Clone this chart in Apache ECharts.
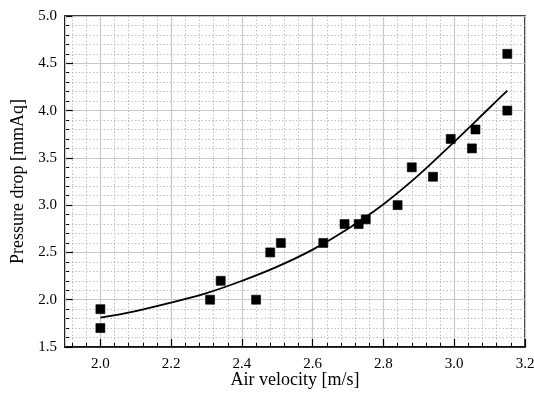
<!DOCTYPE html>
<html>
<head>
<meta charset="utf-8">
<script src="https://cdn.jsdelivr.net/npm/echarts@6/dist/echarts.min.js"></script>
<style>
html,body{margin:0;padding:0;background:#fff;}
#chart{width:534px;height:396px;}
</style>
</head>
<body>
<div id="chart"></div>
<script>
// Measured points
var pointX = [2.00, 2.00, 2.31, 2.34, 2.44, 2.48, 2.51, 2.63, 2.69, 2.73, 2.75, 2.84, 2.88, 2.94, 2.99, 3.05, 3.06, 3.15, 3.15];
var pointY = [1.9, 1.7, 2.0, 2.2, 2.0, 2.5, 2.6, 2.6, 2.8, 2.8, 2.85, 3.0, 3.4, 3.3, 3.7, 3.6, 3.8, 4.0, 4.6];
// Fitted curve
var curveX = [2.0, 2.1, 2.2, 2.3, 2.4, 2.5, 2.6, 2.7, 2.8, 2.9, 3.0, 3.1, 3.15];
var curveY = [1.81, 1.88, 1.97, 2.07, 2.20, 2.35, 2.53, 2.75, 3.01, 3.32, 3.67, 4.03, 4.21];
// Axis settings
var xName = 'Air velocity [m/s]';
var yName = 'Pressure drop [mmAq]';

var FONT = '"Liberation Serif", "Times New Roman", serif';
var chart = echarts.init(document.getElementById('chart'), null, {renderer: 'canvas'});

var scatterData = pointX.map(function (x, i) { return [x, pointY[i]]; });
var curveData = curveX.map(function (x, i) { return [x, curveY[i]]; });

chart.setOption({
  animation: false,
  backgroundColor: '#fff',
  grid: {left: 65, right: 9, top: 16, bottom: 49, containLabel: false, outerBoundsMode: 'none',
    show: true, borderColor: '#000', borderWidth: 1.5, backgroundColor: 'transparent'},
  xAxis: [{
    type: 'value', min: 1.9, max: 3.2, minInterval: 0.2, maxInterval: 0.2,
    name: xName, nameLocation: 'middle', nameGap: 24, nameMoveOverlap: false,
    nameTextStyle: {fontFamily: FONT, fontSize: 18, color: '#000'},
    axisLine: {show: true, lineStyle: {color: '#000', width: 1.5}},
    axisTick: {show: true, inside: true, length: 8, lineStyle: {color: '#000', width: 1.2}},
    axisLabel: {showMinLabel: false, margin: 10, fontFamily: FONT, fontSize: 15, color: '#000',
      formatter: function (v) { return v < 1.95 ? '' : v.toFixed(1); }},
    splitLine: {show: true, lineStyle: {color: '#c8c8c8', width: 1.2}},
    z: 2
  }, {
    type: 'value', min: 1.9, max: 3.2, minInterval: 0.04, maxInterval: 0.04, position: 'bottom',
    axisLine: {show: false},
    axisLabel: {show: false},
    axisTick: {show: true, inside: true, length: 4, lineStyle: {color: '#000', width: 1}},
    splitLine: {show: true, lineStyle: {color: '#b0b0b0', width: 0.8, type: [1.5, 2]}},
    z: 1
  }],
  yAxis: {
    type: 'value', min: 1.5, max: 5.0, interval: 0.5,
    name: yName, nameLocation: 'middle', nameGap: 38, nameMoveOverlap: false,
    nameTextStyle: {fontFamily: FONT, fontSize: 18, color: '#000'},
    axisLine: {show: true, lineStyle: {color: '#000', width: 1.5}},
    axisTick: {show: true, inside: true, length: 8, lineStyle: {color: '#000', width: 1.2}},
    minorTick: {show: true, splitNumber: 5, length: 4, lineStyle: {color: '#000', width: 1}},
    axisLabel: {margin: 8, fontFamily: FONT, fontSize: 15, color: '#000',
      formatter: function (v) { return v.toFixed(1); }},
    splitLine: {show: true, lineStyle: {color: '#c8c8c8', width: 1.2}},
    minorSplitLine: {show: true, lineStyle: {color: '#b0b0b0', width: 0.8, type: [1.5, 2]}}
  },
  series: [{
    type: 'line', data: curveData, xAxisIndex: 0, smooth: 0.4, showSymbol: false, symbol: 'none',
    lineStyle: {color: '#000', width: 1.8}, z: 3
  }, {
    type: 'scatter', data: scatterData, xAxisIndex: 0, symbol: 'rect', symbolSize: 9,
    itemStyle: {color: '#000', borderColor: '#000', borderWidth: 0.6, opacity: 1}, z: 4
  }]
});
</script>
</body>
</html>
